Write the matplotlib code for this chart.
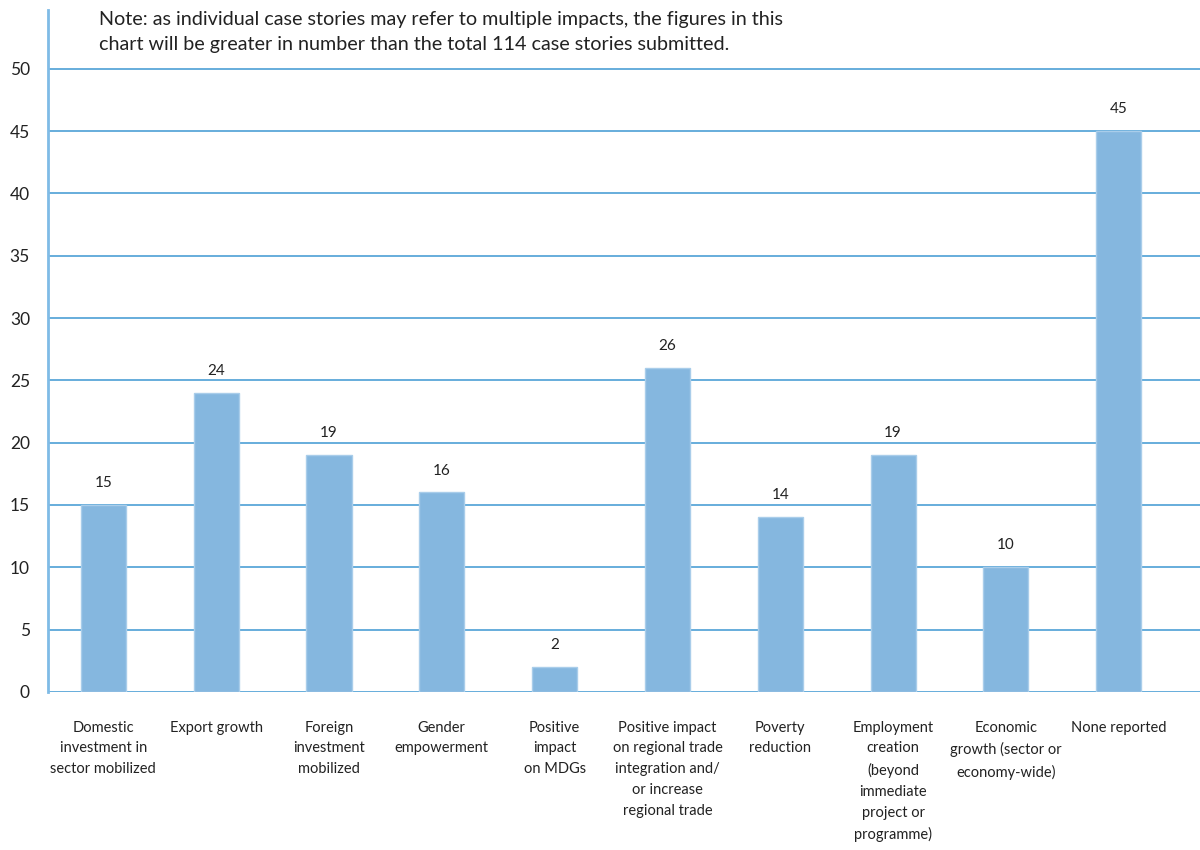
import matplotlib.pyplot as plt

plt.rcParams['font.family'] = ['Lato', 'DejaVu Sans']

categories = [
    'Domestic\ninvestment in\nsector mobilized',
    'Export growth',
    'Foreign\ninvestment\nmobilized',
    'Gender\nempowerment',
    'Positive\nimpact\non MDGs',
    'Positive impact\non regional trade\nintegration and/\nor increase\nregional trade',
    'Poverty\nreduction',
    'Employment\ncreation\n(beyond\nimmediate\nproject or\nprogramme)',
    'Economic\ngrowth (sector or\neconomy-wide)',
    'None reported',
]
counts = [15, 24, 19, 16, 2, 26, 14, 19, 10, 45]
yticks = [0, 5, 10, 15, 20, 25, 30, 35, 40, 45, 50]

note = ('Note: as individual case stories may refer to multiple impacts, the figures in this\n'
        'chart will be greater in number than the total 114 case stories submitted.')

grid_col = '#4d9fd6'
bar_col = '#85b7df'

fig = plt.figure(figsize=(12, 8.5), dpi=100)
ax = fig.add_axes([0.04, 0.186, 0.96, 0.802])

x = list(range(len(counts)))
ax.bar(x, counts, width=0.4, color=bar_col, edgecolor='#a9cdea', linewidth=1, zorder=3)

for xi, v in zip(x, counts):
    ax.text(xi, v + 1.2, str(v), ha='center', va='bottom', fontsize=11, color='#222222')

for t in yticks:
    ax.axhline(t, color=grid_col, linewidth=1.2, zorder=1)

ax.set_xlim(-0.49, 9.72)
ax.set_ylim(0, 54.7)
ax.set_yticks(yticks)
ax.set_yticklabels([str(t) for t in yticks], fontsize=12.5, color='#222222')
ax.tick_params(axis='y', length=0, pad=13)
ax.set_xticks([])

for s in ['top', 'right', 'bottom']:
    ax.spines[s].set_visible(False)
ax.spines['left'].set_color('#7fbbe6')
ax.spines['left'].set_linewidth(2)

# category names sit under the axis as free text so the line spacing can be set
for xi, lab in zip(x, categories):
    ax.text(xi, -2.3, lab, ha='center', va='top', fontsize=10.5, color='#222222',
            linespacing=1.62, clip_on=False)

fig.text(0.0825, 0.987, note, ha='left', va='top', fontsize=14.2, color='#222222', linespacing=1.55)

plt.savefig('out.png')
